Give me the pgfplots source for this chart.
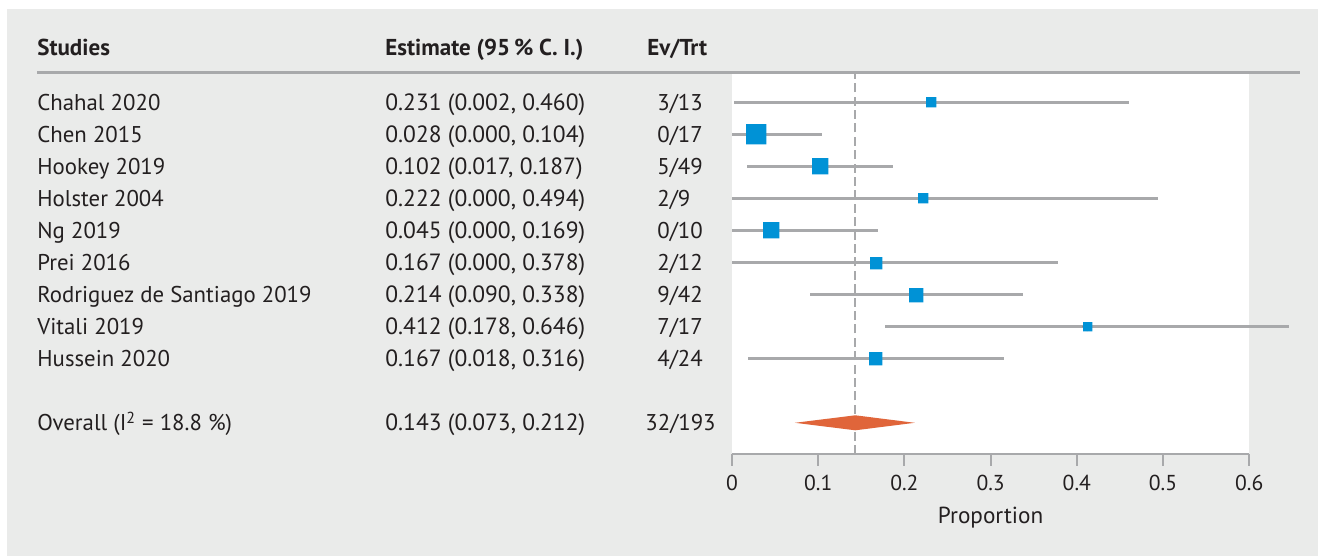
\documentclass[border=0pt]{standalone}
\usepackage{pgfplots}
\pgfplotsset{compat=1.18}
\usepackage{pgfplotstable}
\usepackage{fontspec}
\setmainfont{PT Sans}
\definecolor{bggrey}{HTML}{EAEBEA}
\definecolor{cigrey}{HTML}{A8A9AB}
\definecolor{sqblue}{HTML}{0092D6}
\definecolor{diamorange}{HTML}{E0653A}
\definecolor{txt}{HTML}{231F20}

\pgfplotstableread{
y est lo hi sz
453.7 0.231 0.002 0.460 10
421.65 0.028 0.000 0.104 20
389.6 0.102 0.017 0.187 16
357.55 0.222 0.000 0.494 10
325.5 0.045 0.000 0.169 16
293.45 0.167 0.000 0.378 12
261.4 0.214 0.090 0.338 14
229.35 0.412 0.178 0.646 9
197.3 0.167 0.018 0.316 13
}\studies

\pgfplotstableread{
x y
0.073 133.2
0.143 140.7
0.212 133.2
0.143 125.7
}\overall

\newcommand{\bodyfont}{\fontsize{11.4}{13.5}\selectfont}
\newcommand{\estfont}{\fontsize{11.75}{13.5}\selectfont}
\newcommand{\headfont}{\fontsize{11.5}{13.5}\selectfont\bfseries}

\pgfplotsset{sq/.style={only marks, mark=square*, color=sqblue, forget plot,
  mark options={solid, fill=sqblue, draw=sqblue, line width=0.01pt}}}

\begin{document}
\begin{tikzpicture}
\begin{scope}[x=0.5pt,y=0.5pt]
\path (0,0) rectangle (1318,556);
\fill[bggrey] (7,0) rectangle (1318,547);
\end{scope}

\begin{axis}[
  at={(366pt,51pt)}, anchor=south west,
  scale only axis, width=258.6pt, height=190pt,
  xmin=0, xmax=0.6, ymin=102, ymax=482,
  clip=false,
  axis y line=none,
  axis x line=bottom,
  x axis line style={-, line width=1.4pt, draw=cigrey},
  axis background/.style={fill=white},
  xtick={0,0.1,0.2,0.3,0.4,0.5,0.6},
  xticklabels={0,0.1,0.2,0.3,0.4,0.5,0.6},
  xtick align=outside,
  major tick length=6pt,
  x tick style={line width=1pt, draw=cigrey},
  /pgf/number format/assume math mode=true,
  xticklabel style={font=\fontsize{10.8}{12}\selectfont, text=txt, yshift=-1pt},
  xlabel={Proportion},
  xlabel style={font=\fontsize{11.6}{13}\selectfont, text=txt, yshift=-1.5pt},
]
\addplot[cigrey, line width=1.2pt, dash pattern=on 4.5pt off 2.2pt, forget plot] coordinates {(0.143,102) (0.143,482)};

\addplot[only marks, mark=none, forget plot,
  error bars/.cd, x dir=both, x explicit, error mark=none,
  error bar style={draw=cigrey, line width=1.3pt, solid}]
  table[x=est, y=y, x error plus expr=\thisrow{hi}-\thisrow{est}, x error minus expr=\thisrow{est}-\thisrow{lo}] {\studies};

% squares (size proportional to weight)
\addplot[sq, mark size=2.5pt] coordinates {(0.231,453.7)};
\addplot[sq, mark size=5pt] coordinates {(0.028,421.65)};
\addplot[sq, mark size=4pt] coordinates {(0.102,389.6)};
\addplot[sq, mark size=2.5pt] coordinates {(0.222,357.55)};
\addplot[sq, mark size=4pt] coordinates {(0.045,325.5)};
\addplot[sq, mark size=3pt] coordinates {(0.167,293.45)};
\addplot[sq, mark size=3.5pt] coordinates {(0.214,261.4)};
\addplot[sq, mark size=2.25pt] coordinates {(0.412,229.35)};
\addplot[sq, mark size=3.25pt] coordinates {(0.167,197.3)};

\addplot[fill=diamorange, draw=none, forget plot] table[x=x, y=y] {\overall} -- cycle;
\end{axis}

\begin{scope}[x=0.5pt,y=0.5pt, every node/.style={text=txt, inner sep=0pt}]
\draw[cigrey, line width=1.4pt] (37,483.3) -- (1300,483.3);
% headers
\node[anchor=base west, font=\headfont] at (37,500) {Studies};
\node[anchor=base west, font=\headfont] at (385,500) {Estimate (95\,\% C.~I.)};
\node[anchor=base west, font=\headfont] at (647,500) {Ev/Trt};
% rows
\foreach \yy/\name/\est/\ev in {
  445.0/Chahal 2020/{0.231 (0.002, 0.460)}/3\slash 13,
  413.0/Chen 2015/{0.028 (0.000, 0.104)}/0\slash 17,
  381.0/Hookey 2019/{0.102 (0.017, 0.187)}/5\slash 49,
  349.0/Holster 2004/{0.222 (0.000, 0.494)}/2\slash 9,
  317.0/Ng 2019/{0.045 (0.000, 0.169)}/0\slash 10,
  285.0/Prei 2016/{0.167 (0.000, 0.378)}/2\slash 12,
  253.0/Rodriguez de Santiago 2019/{0.214 (0.090, 0.338)}/9\slash 42,
  221.0/Vitali 2019/{0.412 (0.178, 0.646)}/7\slash 17,
  189.0/Hussein 2020/{0.167 (0.018, 0.316)}/4\slash 24}{
  \node[anchor=base west, font=\bodyfont] at (37,\yy) {\name};
  \node[anchor=base west, font=\estfont] at (385,\yy) {\est};
  \node[anchor=base west, font=\bodyfont] at (657,\yy) {\ev};
}
\node[anchor=base west, font=\bodyfont] at (37,125) {Overall (I\textsuperscript{2} = 18.8 \%)};
\node[anchor=base west, font=\estfont] at (385,125) {0.143 (0.073, 0.212)};
\node[anchor=base west, font=\bodyfont] at (645,125) {32/193};
\end{scope}
\end{tikzpicture}
\end{document}
